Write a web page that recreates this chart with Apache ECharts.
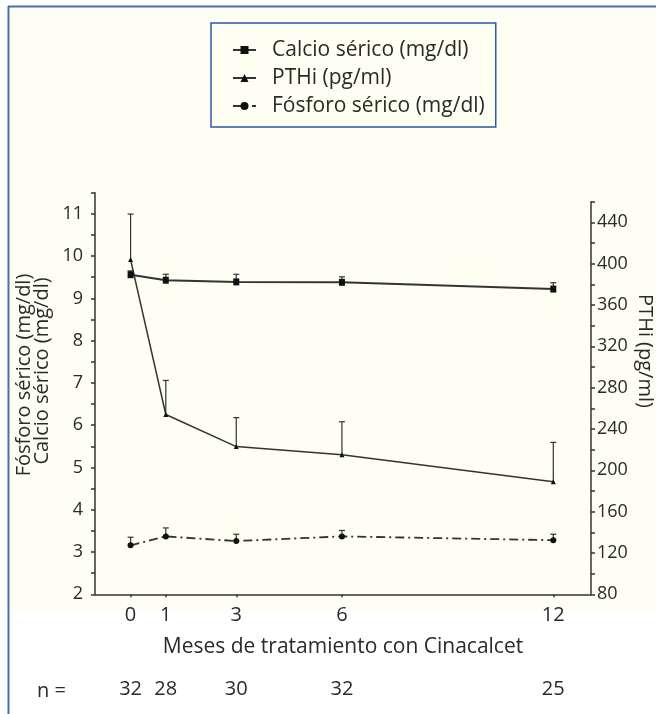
<!DOCTYPE html>
<html>
<head>
<meta charset="utf-8">
<script src="https://cdn.jsdelivr.net/npm/echarts@6/dist/echarts.min.js"></script>
<style>
html,body{margin:0;padding:0;background:#fff;}
#chart{width:656px;height:714px;}
</style>
</head>
<body>
<div id="chart"></div>
<script>
// ---- data ----
const months = [0, 1, 3, 6, 12];
const nCounts = [32, 28, 30, 32, 25];
const calcio = [9.56, 9.43, 9.39, 9.38, 9.22];
const calcioUpper = [9.65, 9.57, 9.57, 9.51, 9.37];
const pth = [404, 254, 223, 215, 189];
const pthUpper = [448, 287, 251, 247, 227];
const fosforo = [3.16, 3.37, 3.26, 3.37, 3.28];
const fosforoUpper = [3.35, 3.57, 3.42, 3.51, 3.42];
const leftLabels = [2, 3, 4, 5, 6, 7, 8, 9, 10, 11];
const leftTicks = [2, 2.5, 3, 3.5, 4, 4.5, 5, 5.5, 6, 6.5, 7, 7.5, 8, 8.5, 9, 9.5, 10, 10.5, 11, 11.5];
const rightLabels = [80, 120, 160, 200, 240, 280, 320, 360, 400, 440];
const rightTicks = [80, 100, 120, 140, 160, 180, 200, 220, 240, 260, 280, 300, 320, 340, 360, 380, 400, 420, 440, 460];
const names = ['Calcio sérico (mg/dl)', 'PTHi (pg/ml)', 'Fósforo sérico (mg/dl)'];

const FONT = 'Open Sans';
const INK = '#2a2a2a';

function errRender(params, api) {
  const x = api.value(0), y = api.value(1), up = api.value(2);
  const p0 = api.coord([x, y]);
  const p1 = api.coord([x, up]);
  const w = 3;
  const st = { stroke: '#333', lineWidth: 1.2 };
  return {
    type: 'group',
    children: [
      { type: 'line', shape: { x1: p0[0], y1: p0[1], x2: p1[0], y2: p1[1] }, style: st },
      { type: 'line', shape: { x1: p1[0] - w, y1: p1[1], x2: p1[0] + w, y2: p1[1] }, style: st }
    ]
  };
}
const zip = (a, b) => months.map((m, i) => [m, a[i], b ? b[i] : undefined]);

const chart = echarts.init(document.getElementById('chart'), null, { renderer: 'canvas' });
const axisLineStyle = { color: '#333', width: 1.5 };

chart.setOption({
  backgroundColor: '#ffffff',
  animation: false,
  textStyle: { fontFamily: FONT },
  graphic: [
    { type: 'rect', z: -10, shape: { x: 9, y: 7, width: 647, height: 603 }, style: { fill: '#fefef2' } },
    { type: 'line', z: 100, shape: { x1: 8, y1: 6.5, x2: 656, y2: 6.5 }, style: { stroke: '#4a6eb0', lineWidth: 2 } },
    { type: 'line', z: 100, shape: { x1: 8.5, y1: 6, x2: 8.5, y2: 714 }, style: { stroke: '#4a6eb0', lineWidth: 2 } },
    { type: 'text', x: 24, y: 375, rotation: Math.PI / 2,
      style: { text: 'Fósforo sérico (mg/dl)', align: 'center', verticalAlign: 'middle',
               font: '20px "Open Sans"', fill: INK } },
    { type: 'text', x: 42, y: 371, rotation: Math.PI / 2,
      style: { text: 'Calcio sérico (mg/dl)', align: 'center', verticalAlign: 'middle',
               font: '20px "Open Sans"', fill: INK } },
    { type: 'text', x: 645, y: 351, rotation: -Math.PI / 2,
      style: { text: 'PTHi (pg/ml)', align: 'center', verticalAlign: 'middle', font: '20px "Open Sans"', fill: INK } },
    { type: 'text', x: 37, y: 691,
      style: { text: 'n =', align: 'left', verticalAlign: 'middle', font: '20px "Open Sans"', fill: INK } }
  ],
  legend: {
    data: names,
    orient: 'vertical',
    left: 211, top: 23,
    padding: [16, 11, 10, 21],
    backgroundColor: 'transparent',
    borderColor: '#2c5aa8',
    borderWidth: 1.5,
    itemWidth: 23, itemHeight: 10,
    itemGap: 6,
    textStyle: { fontSize: 21, color: INK, fontFamily: FONT, lineHeight: 22, padding: [0, 0, 0, 11] }
  },
  grid: [
    { left: 95, right: 65, top: 192.7, bottom: 119.7 },
    { left: 95, right: 65, top: 201.7, bottom: 119.7 }
  ],
  xAxis: [
    {
      type: 'value', gridIndex: 0, min: -1.01, max: 13.07,
      name: 'Meses de tratamiento con Cinacalcet', nameLocation: 'middle', nameGap: 42,
      nameTextStyle: { fontSize: 21, color: INK, fontFamily: FONT },
      axisLine: { onZero: false, lineStyle: axisLineStyle },
      axisTick: { show: true, length: 3, customValues: months, lineStyle: { color: '#333', width: 1.5 } },
      axisLabel: { customValues: months, fontSize: 20, color: INK, margin: 11, fontFamily: FONT },
      splitLine: { show: false }
    },
    {
      type: 'value', gridIndex: 1, min: -1.01, max: 13.07, show: false
    },
    {
      type: 'value', gridIndex: 0, min: -1.01, max: 13.07, position: 'bottom', offset: 77,
      axisLine: { show: false, onZero: false }, axisTick: { show: false }, splitLine: { show: false },
      axisLabel: { customValues: months, fontSize: 20, color: INK, margin: 8, fontFamily: FONT,
                   formatter: v => String(nCounts[months.indexOf(v)]) }
    }
  ],
  yAxis: [
    {
      type: 'value', gridIndex: 0, min: 2, max: 11.5, position: 'left',
      axisLine: { show: true, onZero: false, lineStyle: axisLineStyle },
      axisTick: { show: true, length: 4, customValues: leftTicks, lineStyle: { color: '#333', width: 1.5 } },
      axisLabel: { customValues: leftLabels, fontSize: 18, color: INK, margin: 12, fontFamily: FONT },
      splitLine: { show: false }
    },
    {
      type: 'value', gridIndex: 1, min: 80, max: 460, position: 'right',
      axisLine: { show: true, onZero: false, lineStyle: axisLineStyle },
      axisTick: { show: true, length: 4, customValues: rightTicks, lineStyle: { color: '#333', width: 1.5 } },
      axisLabel: { customValues: rightLabels, fontSize: 18, color: INK, margin: 6, fontFamily: FONT },
      splitLine: { show: false }
    }
  ],
  series: [
    {
      name: names[0], type: 'line', xAxisIndex: 0, yAxisIndex: 0,
      data: zip(calcio), symbol: 'rect', symbolSize: [6, 7], z: 5,
      lineStyle: { color: '#333', width: 2 }, itemStyle: { color: '#111' }
    },
    {
      name: names[1], type: 'line', xAxisIndex: 1, yAxisIndex: 1,
      data: zip(pth), symbol: 'triangle', symbolSize: 5, z: 5,
      lineStyle: { color: '#333', width: 1.5 }, itemStyle: { color: '#111' }
    },
    {
      name: names[2], type: 'line', xAxisIndex: 0, yAxisIndex: 0,
      data: zip(fosforo), symbol: 'circle', symbolSize: 6, z: 5,
      lineStyle: { color: '#333', width: 1.8, type: [9, 4, 2, 4] }, itemStyle: { color: '#111' }
    },
    { type: 'custom', xAxisIndex: 0, yAxisIndex: 0, renderItem: errRender, data: zip(calcio, calcioUpper), z: 4, silent: true },
    { type: 'custom', xAxisIndex: 1, yAxisIndex: 1, renderItem: errRender, data: zip(pth, pthUpper), z: 4, silent: true },
    { type: 'custom', xAxisIndex: 0, yAxisIndex: 0, renderItem: errRender, data: zip(fosforo, fosforoUpper), z: 4, silent: true }
  ]
});
</script>
</body>
</html>
